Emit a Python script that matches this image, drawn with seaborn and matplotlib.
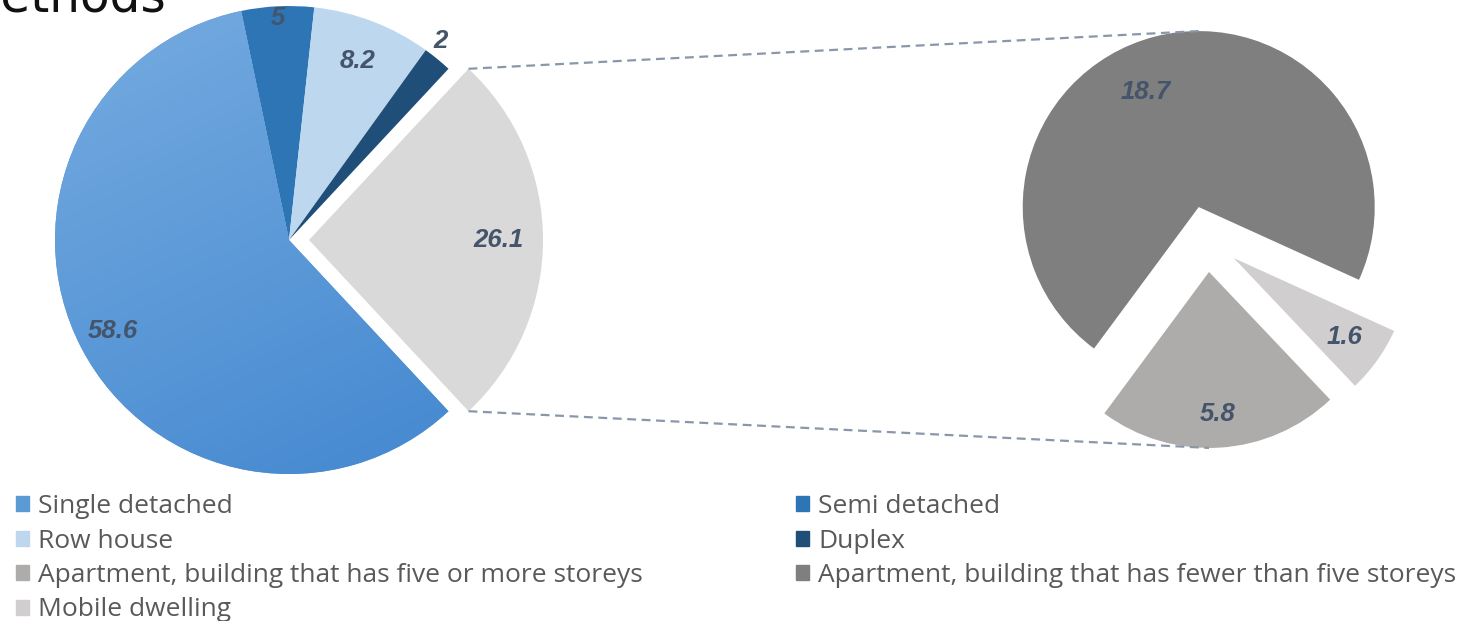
import numpy as np
import matplotlib
matplotlib.use("Agg")
import matplotlib.pyplot as plt
import seaborn as sns
from matplotlib.patches import Patch

# ---- data ----
main_labels = ["Single detached", "Semi detached", "Row house", "Duplex"]
main_values = [58.6, 5.0, 8.2, 2.0]
sub_labels = ["Apartment, building that has five or more storeys",
              "Apartment, building that has fewer than five storeys",
              "Mobile dwelling"]
sub_values = [5.8, 18.7, 1.6]
title_fragment = "methods"

# ---- styles ----
main_colors = ["#5B9BD5", "#2E75B6", "#BDD7EE", "#1F4E79"]
other_color = "#D9D9D9"
sub_colors = ["#AEABAB", "#7F7F7F", "#D0CECE"]
label_color = "#44546A"
legend_color = "#595959"

sns.set_theme(style="white")
plt.rcParams['font.family'] = ['Open Sans', 'DejaVu Sans']

W, H = 1458, 621
fig = plt.figure(figsize=(W / 100, H / 100), dpi=100)
fig.patch.set_facecolor("white")
ax = fig.add_axes([0, 0, 1, 1])

other_value = round(sum(sub_values), 1)
left_vals = main_values + [other_value]
total = sum(left_vals)
other_span = 360 * other_value / total

left_center = (289, H - 240)
left_r = 234
wl, _ = ax.pie(left_vals, colors=main_colors + [other_color],
               startangle=-other_span / 2, counterclock=False,
               explode=[0, 0, 0, 0, 20], radius=left_r, center=left_center,
               wedgeprops=dict(linewidth=0), frame=True)

right_center = (1207, H - 239)
right_r = 176
wr, _ = ax.pie(sub_values, colors=sub_colors, startangle=313.5,
               counterclock=False, explode=[33, 33, 33], radius=right_r,
               center=right_center, wedgeprops=dict(linewidth=0), frame=True)

# gradient fill on the large slice
gy, gx = np.mgrid[0:1:200j, 0:1:200j]
t = np.clip(0.35 * gx + 0.75 * gy - 0.05, 0, 1)
c0 = np.array(matplotlib.colors.to_rgb("#74AAE0"))
c1 = np.array(matplotlib.colors.to_rgb("#4488D0"))
img = c0[None, None, :] * (1 - t[..., None]) + c1[None, None, :] * t[..., None]
cx, cy = wl[0].center
im = ax.imshow(img, extent=(cx - left_r, cx + left_r, cy - left_r, cy + left_r),
               origin="upper", interpolation="bilinear", zorder=wl[0].get_zorder() + 0.1)
im.set_clip_path(wl[0])


def wlabel(w, text, dist, dang=0.0):
    ang = np.deg2rad((w.theta1 + w.theta2) / 2 + dang)
    x0, y0 = w.center
    ax.text(x0 + dist * w.r * np.cos(ang), y0 + dist * w.r * np.sin(ang), text,
            ha="center", va="center", fontsize=18.5, fontweight="bold",
            fontstyle="italic", color=label_color,
            family=["Liberation Sans", "DejaVu Sans"], zorder=10)


left_dist = [0.85, 0.95, 0.82, 1.07, 0.81]
left_dang = [0, 0, 0, 2, 0]
for w, v, d, a in zip(wl, left_vals, left_dist, left_dang):
    wlabel(w, f"{v:g}", d, a)

right_dist = [0.81, 0.72, 0.77]
right_dang = [0, 10, 0]
for w, v, d, a in zip(wr, sub_values, right_dist, right_dang):
    wlabel(w, f"{v:g}", d, a)

# connector lines
wo = wl[4]
ocx, ocy = wo.center
a_top = np.deg2rad(max(wo.theta1, wo.theta2))
a_bot = np.deg2rad(min(wo.theta1, wo.theta2))
p_top = (ocx + wo.r * np.cos(a_top), ocy + wo.r * np.sin(a_top))
p_bot = (ocx + wo.r * np.cos(a_bot), ocy + wo.r * np.sin(a_bot))
q_top = (wr[1].center[0], wr[1].center[1] + wr[1].r)
q_bot = (wr[0].center[0], wr[0].center[1] - wr[0].r)
for p, q in [(p_top, q_top), (p_bot, q_bot)]:
    ax.plot([p[0], q[0]], [p[1], q[1]], color="#8A97AB", lw=1.6,
            linestyle=(0, (4, 2.5)), zorder=1)

# partial title at top edge
ax.text(166, H - 11, title_fragment, ha="right", va="baseline", fontsize=35,
        color="#111111", family=["DejaVu Sans"], clip_on=False)

ax.set_xlim(0, W)
ax.set_ylim(0, H)
ax.set_aspect("equal")
ax.axis("off")

# legends
leg_kw = dict(loc="upper left", frameon=False, fontsize=19, handlelength=0.5,
              handleheight=0.5, handletextpad=0.35, labelspacing=0.36,
              borderpad=0, borderaxespad=0, labelcolor=legend_color)
col1 = [(main_labels[0], main_colors[0]), (main_labels[2], main_colors[2]),
        (sub_labels[0], sub_colors[0]), (sub_labels[2], sub_colors[2])]
col2 = [(main_labels[1], main_colors[1]), (main_labels[3], main_colors[3]),
        (sub_labels[1], sub_colors[1])]
l1 = fig.legend([Patch(color=c) for _, c in col1], [n for n, _ in col1],
                bbox_to_anchor=(16 / W, 1 - 494 / H), **leg_kw)
l2 = fig.legend([Patch(color=c) for _, c in col2], [n for n, _ in col2],
                bbox_to_anchor=(796 / W, 1 - 494 / H), **leg_kw)

fig.savefig("out.png", dpi=100, facecolor="white")
